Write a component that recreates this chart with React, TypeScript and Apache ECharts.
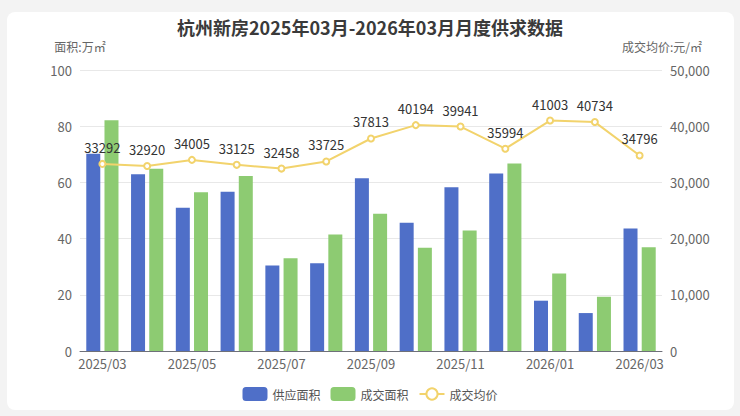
import React, { useEffect, useRef } from "react";
import * as echarts from "echarts";

const categories = [
  "2025/03", "2025/04", "2025/05", "2025/06", "2025/07", "2025/08", "2025/09",
  "2025/10", "2025/11", "2025/12", "2026/01", "2026/02", "2026/03",
];
const supplyArea = [70.2, 62.9, 51.0, 56.7, 30.4, 31.2, 61.5, 45.6, 58.3, 63.2, 17.9, 13.5, 43.6];
const dealArea = [82.1, 64.9, 56.5, 62.3, 33.0, 41.5, 48.8, 36.7, 42.9, 66.7, 27.6, 19.3, 36.9];
const avgPrice = [33292, 32920, 34005, 33125, 32458, 33725, 37813, 40194, 39941, 35994, 41003, 40734, 34796];

const FONT = "'Noto Sans CJK SC', 'Noto Sans', sans-serif";

export default function App() {
  const ref = useRef<HTMLDivElement>(null);
  useEffect(() => {
    if (!ref.current) return;
    const chart = echarts.init(ref.current, null, { renderer: "svg" });
    chart.setOption({
      animation: false,
      backgroundColor: "#f3f3f3",
      textStyle: { fontFamily: FONT },
      graphic: [
        {
          type: "rect",
          z: -10,
          shape: { x: 7, y: 12, width: 727, height: 398, r: 8 },
          style: { fill: "#ffffff" },
          silent: true,
        },
      ],
      title: {
        text: "杭州新房2025年03月-2026年03月月度供求数据",
        left: "center",
        top: 13,
        textStyle: { fontSize: 18, fontWeight: "bold", color: "#3a3a3a", fontFamily: FONT },
      },
      legend: {
        bottom: 10,
        left: "center",
        itemWidth: 25,
        itemHeight: 14,
        itemGap: 10,
        textStyle: { fontSize: 12, color: "#555", fontFamily: FONT },
        data: ["供应面积", "成交面积", "成交均价"],
      },
      grid: { left: 80, right: 78, top: 70, bottom: 65 },
      xAxis: {
        type: "category",
        data: categories,
        axisLine: { lineStyle: { color: "#6e7079" } },
        axisTick: { interval: 1 },
        axisLabel: { interval: 1, fontSize: 13, color: "#666", margin: 6 },
      },
      yAxis: [
        {
          type: "value",
          name: "面积:万㎡",
          nameGap: 18,
          nameTextStyle: { fontSize: 12, color: "#666", align: "center" },
          min: 0,
          max: 100,
          interval: 20,
          axisLabel: { fontSize: 13, color: "#666", margin: 8 },
          splitLine: { lineStyle: { color: "#e8e8e8" } },
        },
        {
          type: "value",
          name: "成交均价:元/㎡",
          nameGap: 18,
          nameTextStyle: { fontSize: 12, color: "#666", align: "center" },
          min: 0,
          max: 50000,
          interval: 10000,
          axisLabel: {
            fontSize: 13,
            color: "#666",
            margin: 8,
            formatter: (v: number) => v.toLocaleString("en-US"),
          },
          splitLine: { show: false },
        },
      ],
      series: [
        {
          name: "供应面积",
          type: "bar",
          data: supplyArea,
          barWidth: 14,
          barGap: "30%",
          itemStyle: { color: "#4f6fc8" },
        },
        {
          name: "成交面积",
          type: "bar",
          data: dealArea,
          barWidth: 14,
          itemStyle: { color: "#8dcb72" },
        },
        {
          name: "成交均价",
          type: "line",
          yAxisIndex: 1,
          data: avgPrice,
          symbol: "emptyCircle",
          symbolSize: 6,
          lineStyle: { color: "#f2d36c", width: 2 },
          itemStyle: { color: "#f2d36c" },
          label: { show: true, position: "top", fontSize: 13, color: "#333", distance: 6 },
          z: 5,
        },
      ],
    });
    return () => chart.dispose();
  }, []);
  return (
    <div
      ref={ref}
      style={{ position: "fixed", left: 0, top: 0, width: 740, height: 416 }}
    />
  );
}
